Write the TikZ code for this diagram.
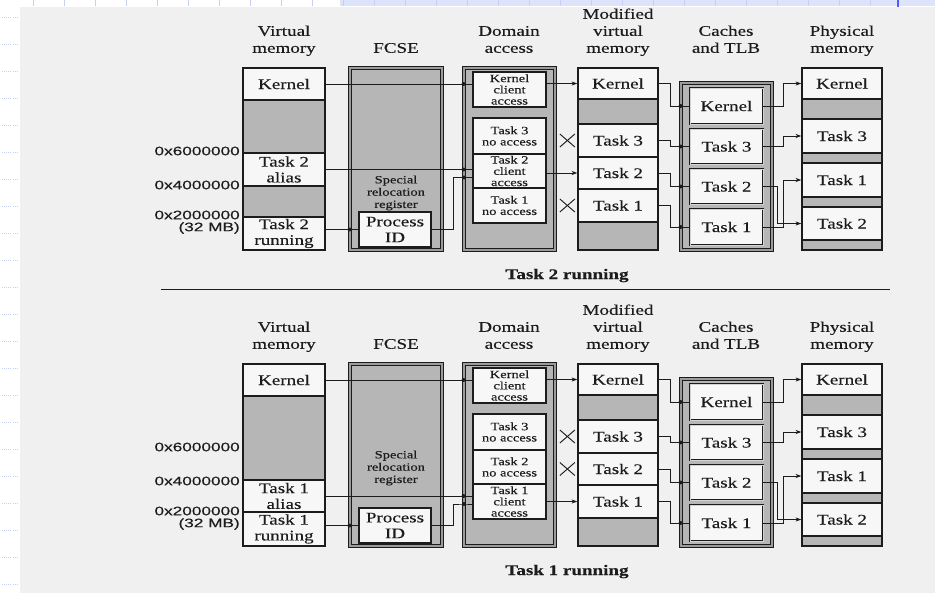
\documentclass[tikz,border=0pt]{standalone}
\usepackage{fontspec}
\setmainfont{Liberation Serif}[FakeStretch=1.3,FakeBold=0.3]
\newfontfamily\addrfont{Liberation Sans}[FakeStretch=1.4,FakeBold=0.3]
\usetikzlibrary{fit,arrows.meta,shapes.misc}

\definecolor{paper}{RGB}{240,240,240}
\definecolor{cellfill}{RGB}{247,247,247}
\definecolor{shade}{RGB}{182,182,182}
\definecolor{ink}{RGB}{28,28,28}
\definecolor{chrome}{RGB}{196,208,246}

\tikzset{
  box/.style={draw=ink,line width=1.1pt,fill=shade,inner sep=0pt},
  frame/.style={box,double=shade!85!black,double distance=1.3pt,line width=0.8pt},
  cell/.style={draw=ink,line width=1.1pt,fill=cellfill,inner sep=0pt},
  tlbcell/.style={cell,line width=0.7pt,double=shade!60,double distance=0.8pt},
  celltxt/.style={inner sep=0pt,align=center,text=ink,font=\fontsize{12.5}{13.5}\selectfont},
  smalltxt/.style={celltxt,font=\fontsize{9.5}{9.6}\selectfont},
  head/.style={anchor=south,inner sep=0pt,text depth=0pt,align=center,text=ink,
    font=\fontsize{12.5}{14.5}\selectfont},
  addr/.style={anchor=east,inner sep=0pt,text=ink,font=\addrfont\fontsize{10.5}{12}\selectfont},
  capt/.style={anchor=base,inner sep=0pt,text=ink,font=\fontsize{12.5}{13}\selectfont\bfseries},
  reloc/.style={inner sep=0pt,align=center,text=ink,font=\fontsize{9.5}{10.5}\selectfont},
  xmark/.style={cross out,draw=ink,line width=0.8pt,minimum width=4.2mm,minimum height=3.6mm,inner sep=0pt},
  conn/.style={draw=ink,line width=0.7pt},
  arr/.style={conn,-{Stealth[length=5pt,width=3.5pt]}},
}

\begin{document}
\begin{tikzpicture}[x=0.3mm,y=-0.3mm]
  \useasboundingbox (0,0) rectangle (935,593);
  \fill[white] (0,0) rectangle (935,593);
  \fill[chrome!60] (340,0) rectangle (935,6);
  \foreach \x in {33,64,...,900}
    \draw[chrome,line width=0.8pt] (\x,0) -- (\x,6);
  \draw[blue!65,line width=1.2pt] (898,0) -- (898,7);
  \foreach \y in {17,44,...,593}
    \draw[chrome,line width=0.8pt,densely dotted] (2,\y) -- (18,\y);
  \fill[paper] (20,7) rectangle (935,593);

  \foreach \p/\s/\n/\ya/\yb/\yr/\ys in {A/0/2/153/186/217/193,B/296/1/184/216/216/172} {
  \begin{scope}[shift={(0,\s)}]
    \node[head] (\p-hvm) at (284,53) {Virtual\\memory};
    \node[head] (\p-hfc) at (396,53) {FCSE};
    \node[head] (\p-hdo) at (509,53) {Domain\\access};
    \node[head] (\p-hmo) at (618,53) {Modified\\virtual\\memory};
    \node[head] (\p-htl) at (726,53) {Caches\\and TLB};
    \node[head] (\p-hph) at (842,53) {Physical\\memory};

    % virtual memory
    \node[box,fit={(243,68) (325,250)}] (\p-vm) {};
    \node[cell,fit={(243,68) (325,100)},label={[celltxt]center:Kernel}] (\p-vk) {};
    \node[cell,fit={(243,\ya) (325,\yb)},label={[celltxt]center:Task \n\\alias}] (\p-va) {};
    \node[cell,fit={(243,\yr) (325,250)},label={[celltxt]center:Task \n\\running}] (\p-vr) {};
    \node[addr] (\p-a6) at (240,151) {0x6000000};
    \node[addr] (\p-a4) at (240,185) {0x4000000};
    \node[addr] (\p-a2) at (240,215) {0x2000000};
    \node[addr] (\p-a0) at (240,228) {(32 MB)};

    % FCSE
    \node[frame,fit={(350,68) (442,250)}] (\p-fcse) {};
    \node[reloc] (\p-srr) at (396,\ys) {Special\\relocation\\register};
    \node[cell,fit={(359,212) (431,247)},label={[celltxt]center:Process\\ID}] (\p-pid) {};

    % domain access
    \node[frame,fit={(464,68) (555,250)}] (\p-dom) {};
    \node[cell,fit={(473,72) (546,107)},label={[smalltxt]center:Kernel\\client\\access}] (\p-dk) {};
    \foreach \t/\u/\v in {3/118/154,2/154/188,1/188/223} {
      \ifnum\t=\n \def\acc{client\\access}\else \def\acc{no access}\fi
      \node[cell,fit={(473,\u) (546,\v)},label={[smalltxt]center:Task \t\\\acc}] (\p-d\t) {};
    }

    % modified virtual memory
    \node[box,fit={(578,68) (658,250)}] (\p-mo) {};
    \node[cell,fit={(578,68) (658,99)},label={[celltxt]center:Kernel}] (\p-mk) {};
    \foreach \t/\u/\v in {3/124/157,2/157/189,1/189/222}
      \node[cell,fit={(578,\u) (658,\v)},label={[celltxt]center:Task \t}] (\p-m\t) {};

    % caches and TLB
    \node[frame,fit={(681,83) (772,250)}] (\p-tlb) {};
    \node[tlbcell,fit={(690,88) (763,124)},label={[celltxt]center:Kernel}] (\p-ck) {};
    \foreach \t/\u/\v in {3/129/164,2/169/204,1/209/245}
      \node[tlbcell,fit={(690,\u) (763,\v)},label={[celltxt]center:Task \t}] (\p-c\t) {};

    % physical memory
    \node[box,line width=1.3pt,fit={(802,68) (882,250)}] (\p-ph) {};
    \node[cell,fit={(802,68) (882,99)},label={[celltxt]center:Kernel}] (\p-pk) {};
    \foreach \t/\u/\v in {3/119/153,1/163/197,2/207/240}
      \node[cell,fit={(802,\u) (882,\v)},label={[celltxt]center:Task \t}] (\p-p\t) {};

    \node[capt] (\p-cap) at (567,279) {Task \n\ running};

    % connectors
    \coordinate (\p-jf) at (453,0);
    \coordinate (\p-jm) at (670,0);
    \coordinate (\p-jp) at (783,0);
    \coordinate (\p-jq) at (777,0);
    \coordinate (\p-pin) at (464,{(\ya+\yb)/2+8});
    \draw[conn] (\p-vk.east) -- (\p-vk.east -| \p-dk.west);
    \fill[ink] (\p-vk.east -| \p-dom.west) circle[radius=1.7pt];
    \draw[conn] (\p-va.east) -- (\p-va.east -| \p-d\n.west);
    \fill[ink] (\p-va.east -| \p-dom.west) circle[radius=1.7pt];
    \draw[conn] (\p-vr.east |- \p-pid) -- (\p-pid.west);
    \fill[ink] (\p-fcse.west |- \p-pid) circle[radius=1.7pt];
    \draw[conn] (\p-pid.east) -- (\p-pid.east -| \p-jf) |- (\p-pin) -- (\p-pin -| \p-d\n.west);
    \fill[ink] (\p-pin) circle[radius=1.7pt];
    \draw[arr] (\p-dk.east |- \p-mk) -- (\p-mk.west);
    \draw[arr] (\p-d\n.east |- \p-m\n) -- (\p-m\n.west);
    \foreach \t in {3,2,1} {
      \ifnum\t=\n\else
        \node[xmark,xshift=-3mm] (\p-x\t) at (\p-m\t.west) {};
      \fi
    }
    \foreach \t in {k,3,2,1} {
      \draw[conn] (\p-m\t.east) -- (\p-m\t.east -| \p-jm) |- (\p-c\t.west);
      \fill[ink] (\p-tlb.west |- \p-c\t) circle[radius=1.7pt];
    }
    \foreach \t in {k,3,1}
      \draw[arr] (\p-c\t.east) -- (\p-c\t.east -| \p-jp) |- (\p-p\t.west);
    \draw[arr] (\p-c2.east) -- (\p-c2.east -| \p-jq) |- (\p-p2.west);
  \end{scope}
  }
  \draw[ink,line width=0.8pt] (161,289) -- (890,289);
\end{tikzpicture}
\end{document}
